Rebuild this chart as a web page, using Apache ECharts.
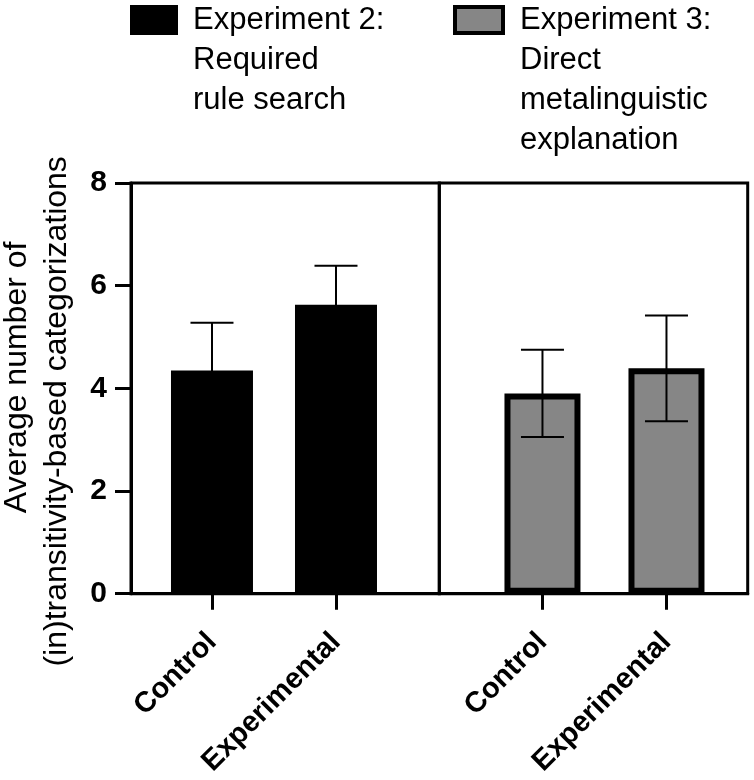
<!DOCTYPE html>
<html lang="en">
<head>
  <meta charset="UTF-8">
  <title>Transitivity-based categorizations</title>
  <script type="text/javascript" src="https://fastly.jsdelivr.net/npm/echarts@6.0.0/dist/echarts.min.js"></script>
  <style>
    html, body, #container {
      width: 100%;
      height: 100%;
      margin: 0;
      padding: 0;
      overflow: hidden;
      background: #fff;
    }
  </style>
</head>
<body>
  <div id="container"></div>
  <script type="text/javascript">
    // data
    var groups = ['Control', 'Experimental'];
    var exp2Name = 'Experiment 2: Required rule search';
    var exp3Name = 'Experiment 3: Direct metalinguistic explanation';
    var exp2Means = [4.35, 5.63];
    var exp2Err = [0.93, 0.76];
    var exp3Means = [3.9, 4.39];
    var exp3Err = [0.85, 1.03];
    var legendLines = {};
    legendLines[exp2Name] = ['Experiment 2:', 'Required', 'rule search'];
    legendLines[exp3Name] = ['Experiment 3:', 'Direct', 'metalinguistic', 'explanation'];

    var sans = '"Liberation Sans", Arial, sans-serif';

    function barData(means) {
      return means.map(function (m, i) { return [i + 1, m]; });
    }
    function errData(means, err) {
      return means.map(function (m, i) { return [i + 1, m - err[i], m + err[i]]; });
    }

    // legend text is centred on the icon, so pad it with blank lines on top
    // to make the first line sit level with the swatch
    function legendText(name) {
      var lines = legendLines[name];
      var blanks = [];
      for (var i = 1; i < lines.length; i++) blanks.push('');
      return blanks.concat(lines).join('\n');
    }

    function renderErr(params, api) {
      var x = api.value(0);
      var lo = api.coord([x, api.value(1)]);
      var hi = api.coord([x, api.value(2)]);
      var half = 21.5;
      var style = { stroke: '#000', lineWidth: 2 };
      return {
        type: 'group',
        children: [
          { type: 'line', shape: { x1: lo[0], y1: lo[1], x2: hi[0], y2: hi[1] }, style: style },
          { type: 'line', shape: { x1: hi[0] - half, y1: hi[1], x2: hi[0] + half, y2: hi[1] }, style: style },
          { type: 'line', shape: { x1: lo[0] - half, y1: lo[1], x2: lo[0] + half, y2: lo[1] }, style: style }
        ]
      };
    }

    function xAxisFor(idx, min, max) {
      return {
        type: 'value',
        gridIndex: idx,
        min: min,
        max: max,
        splitLine: { show: false },
        axisLine: { lineStyle: { color: '#000', width: 3 } },
        axisTick: { customValues: [1, 2], length: 16, lineStyle: { color: '#000', width: 3 } },
        axisLabel: {
          customValues: [1, 2],
          rotate: 45,
          margin: 44,
          fontSize: 29,
          fontWeight: 'bold',
          fontFamily: sans,
          color: '#000',
          formatter: function (v) { return groups[Math.round(v) - 1]; }
        }
      };
    }

    function yAxisFor(idx, show) {
      var ax = {
        type: 'value',
        gridIndex: idx,
        min: 0,
        max: 8,
        interval: 2,
        show: show,
        splitLine: { show: false },
        axisLine: { show: true, lineStyle: { color: '#000', width: 3 } },
        axisTick: { show: true, length: 16, lineStyle: { color: '#000', width: 3 } },
        axisLabel: { fontSize: 30, fontWeight: 'bold', fontFamily: sans, color: '#000', margin: 24 }
      };
      if (show) {
        ax.name = '{a|Average number of}\n{b|(in)transitivity-based categorizations}';
        ax.nameLocation = 'middle';
        ax.nameRotate = 90;
        ax.nameGap = 54;
        ax.nameTextStyle = {
          color: '#000',
          fontFamily: sans,
          fontSize: 32,
          lineHeight: 40,
          rich: {
            a: { fontSize: 32, fontFamily: sans, color: '#000', lineHeight: 40, padding: [0, 0, 0, 22] },
            b: { fontSize: 32, fontFamily: sans, color: '#000', lineHeight: 40, padding: [0, 46, 0, 0] }
          }
        };
      }
      return ax;
    }

    function legendFor(name, left, top, iconH, pad, itemStyle) {
      return {
        data: [name],
        left: left,
        top: top,
        padding: 0,
        itemWidth: 48,
        itemHeight: iconH,
        selectedMode: false,
        icon: 'rect',
        itemStyle: itemStyle,
        formatter: legendText,
        textStyle: {
          fontSize: 31,
          lineHeight: 40,
          color: '#000',
          fontFamily: sans,
          padding: [0, 0, 0, pad]
        }
      };
    }

    var chart = echarts.init(document.getElementById('container'), null, { renderer: 'canvas' });
    chart.setOption({
      animation: false,
      legend: [
        legendFor(exp2Name, 130, -80, 30, 10, { color: '#000', borderWidth: 0 }),
        legendFor(exp3Name, 453, -120, 26, 12, { color: '#868686', borderColor: '#000', borderWidth: 4 })
      ],
      grid: [
        { left: 131, top: 183, width: 308.3, height: 410.7, outerBoundsMode: 'none', containLabel: false,
          show: true, borderColor: '#000', borderWidth: 3, backgroundColor: 'transparent' },
        { left: 439.3, top: 183, width: 308.4, height: 410.7, outerBoundsMode: 'none', containLabel: false,
          show: true, borderColor: '#000', borderWidth: 3, backgroundColor: 'transparent' }
      ],
      xAxis: [
        xAxisFor(0, 0.347, 2.833),
        xAxisFor(1, 0.168, 2.655)
      ],
      yAxis: [
        yAxisFor(0, true),
        yAxisFor(1, false)
      ],
      series: [
        {
          name: exp2Name,
          type: 'bar',
          xAxisIndex: 0,
          yAxisIndex: 0,
          barWidth: 82,
          itemStyle: { color: '#000' },
          data: barData(exp2Means)
        },
        {
          name: exp3Name,
          type: 'bar',
          xAxisIndex: 1,
          yAxisIndex: 1,
          barWidth: 76,
          itemStyle: { color: '#868686', borderColor: '#000', borderWidth: 6 },
          data: barData(exp3Means)
        },
        {
          name: 'exp2 error',
          type: 'custom',
          xAxisIndex: 0,
          yAxisIndex: 0,
          z: 5,
          renderItem: renderErr,
          data: errData(exp2Means, exp2Err)
        },
        {
          name: 'exp3 error',
          type: 'custom',
          xAxisIndex: 1,
          yAxisIndex: 1,
          z: 5,
          renderItem: renderErr,
          data: errData(exp3Means, exp3Err)
        }
      ]
    });
  </script>
</body>
</html>
